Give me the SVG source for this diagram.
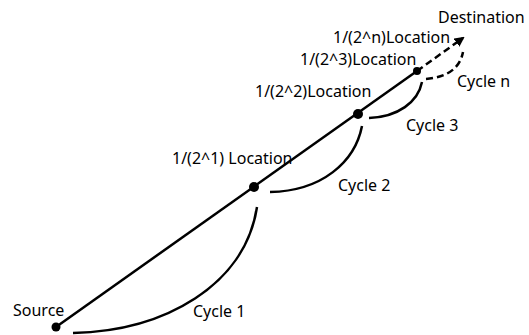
<svg xmlns="http://www.w3.org/2000/svg" width="529" height="335" viewBox="0 0 529 335">
  <style>
    .lbl { font-family: "Noto Sans", "Open Sans", sans-serif; font-size: 16px; fill: #000; }
    .ln { fill: none; stroke: #000; stroke-width: 2.5; }
    .dash { stroke-dasharray: 7 4; }
    .pt { fill: #000; }
  </style>
  <defs>
    <marker id="arrow" viewBox="0 0 10 10" refX="8" refY="5" markerWidth="4" markerHeight="4" orient="auto" markerUnits="strokeWidth">
      <path d="M0,0 L10,5 L0,10 z" fill="#000"/>
    </marker>
  </defs>

  <!-- connectors: path from source toward destination, and the cycle arcs -->
  <g id="connectors">
    <line class="ln" x1="56" y1="327" x2="417" y2="71"/>
    <line class="ln dash" x1="417" y1="71" x2="463" y2="38" marker-end="url(#arrow)"/>
    <path class="ln" d="M73,333 C165,331 245,285 257,207"/>
    <path class="ln" d="M270,192 C322,191 355,162 362,126"/>
    <path class="ln" d="M369,118 C398,117 418,102 422,82"/>
    <path class="ln dash" d="M426,79 C448,77 460,68 463,52"/>
  </g>

  <g id="source">
    <circle class="pt" cx="56" cy="327" r="4.5"/>
    <text class="lbl" x="13" y="316">Source</text>
  </g>
  <g id="loc1">
    <circle class="pt" cx="254" cy="187" r="5"/>
    <text class="lbl" x="172" y="164">1/(2^1) Location</text>
  </g>
  <g id="loc2">
    <circle class="pt" cx="358" cy="114" r="5"/>
    <text class="lbl" x="255" y="97">1/(2^2)Location</text>
  </g>
  <g id="loc3">
    <circle class="pt" cx="417" cy="71" r="4"/>
    <text class="lbl" x="300" y="65">1/(2^3)Location</text>
  </g>
  <g id="locn">
    <text class="lbl" x="333" y="43">1/(2^n)Location</text>
  </g>
  <g id="destination">
    <text class="lbl" x="438" y="23">Destination</text>
  </g>
  <g id="cycles">
    <text class="lbl" x="193" y="317">Cycle 1</text>
    <text class="lbl" x="338" y="191">Cycle 2</text>
    <text class="lbl" x="406" y="131">Cycle 3</text>
    <text class="lbl" x="457" y="87">Cycle n</text>
  </g>
</svg>
